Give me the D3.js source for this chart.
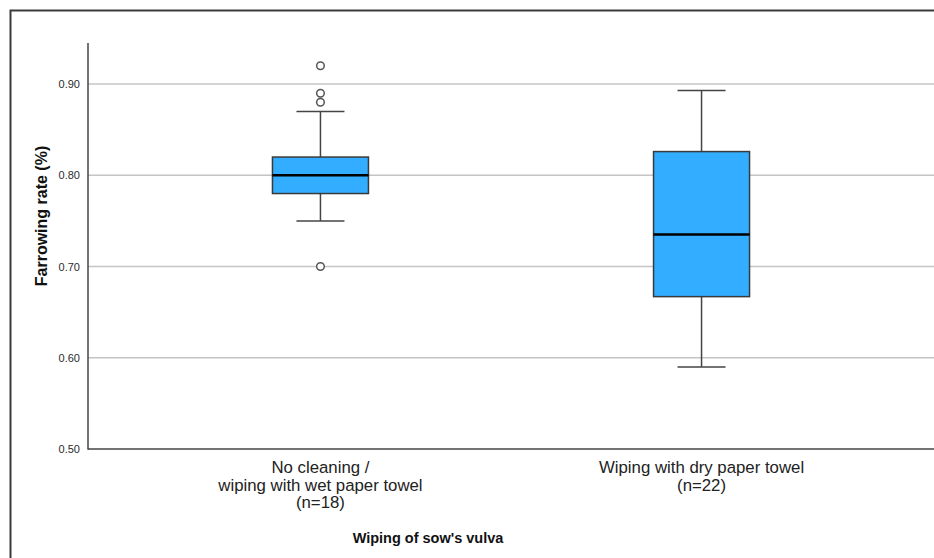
<!DOCTYPE html>
<html>
<head>
<meta charset="utf-8">
<script src="https://cdn.jsdelivr.net/npm/d3@7/dist/d3.min.js"></script>
<style>
  html, body { margin: 0; padding: 0; background: #fff; }
  svg { display: block; font-family: "Liberation Sans", Arial, sans-serif; }
</style>
</head>
<body>
<svg id="chart" width="934" height="558"></svg>
<script>
// Groups on the x axis (each label split into its printed lines)
const groups = ["clean", "dry"];
const groupLabels = [
  ["No cleaning /", "wiping with wet paper towel", "(n=18)"],
  ["Wiping with dry paper towel", "(n=22)"]
];

// Box-plot statistics per group
const lowerWhisker = [0.75, 0.59];
const q1 = [0.78, 0.667];
const median = [0.80, 0.735];
const q3 = [0.82, 0.826];
const upperWhisker = [0.87, 0.893];
const outliers = [[0.92, 0.89, 0.88, 0.70], []];

const yTicks = [0.50, 0.60, 0.70, 0.80, 0.90];

(function draw() {
  const svg = d3.select("#chart");
  const plotLeft = 88, plotRight = 934, plotTop = 43, plotBottom = 449;

  // Outer frame
  svg.append("rect")
    .attr("x", 10.5).attr("y", 10.5)
    .attr("width", 1000).attr("height", 1000)
    .attr("fill", "none").attr("stroke", "#3a3a3a").attr("stroke-width", 2);

  const y = d3.scaleLinear().domain([0.5, 0.945]).range([plotBottom, plotTop]);
  const x = d3.scalePoint().domain(groups).range([plotLeft, plotRight]).padding(0.61);

  // Grid lines
  svg.append("g").selectAll("line")
    .data(yTicks.filter(t => t > 0.5))
    .join("line")
    .attr("x1", plotLeft).attr("x2", plotRight)
    .attr("y1", d => y(d)).attr("y2", d => y(d))
    .attr("stroke", "#c4c4c4").attr("stroke-width", 1.5);

  // Y axis
  const yAxis = svg.append("g")
    .attr("transform", `translate(${plotLeft},0)`)
    .call(d3.axisLeft(y).tickValues(yTicks).tickFormat(d3.format(".2f")).tickSize(0).tickPadding(8));
  yAxis.select(".domain").remove();
  yAxis.selectAll("text")
    .attr("font-size", 11).attr("fill", "#2a2a2a")
    .attr("font-family", "Liberation Sans, Arial, sans-serif");

  // Axis lines
  svg.append("line").attr("x1", plotLeft).attr("x2", plotLeft).attr("y1", plotTop).attr("y2", plotBottom + 0.75)
    .attr("stroke", "#444").attr("stroke-width", 1.5);
  svg.append("line").attr("x1", plotLeft).attr("x2", plotRight).attr("y1", plotBottom).attr("y2", plotBottom)
    .attr("stroke", "#444").attr("stroke-width", 1.5);

  // Boxes
  const boxW = 96, capW = 48;
  const stroke = "#444";
  const g = svg.append("g");
  groups.forEach((k, i) => {
    const cx = x(k);
    // whiskers
    g.append("line").attr("x1", cx).attr("x2", cx)
      .attr("y1", y(upperWhisker[i])).attr("y2", y(q3[i]))
      .attr("stroke", stroke).attr("stroke-width", 1.5);
    g.append("line").attr("x1", cx).attr("x2", cx)
      .attr("y1", y(q1[i])).attr("y2", y(lowerWhisker[i]))
      .attr("stroke", stroke).attr("stroke-width", 1.5);
    [upperWhisker[i], lowerWhisker[i]].forEach(v => {
      g.append("line").attr("x1", cx - capW / 2).attr("x2", cx + capW / 2)
        .attr("y1", y(v)).attr("y2", y(v))
        .attr("stroke", stroke).attr("stroke-width", 1.5);
    });
    // box
    g.append("rect")
      .attr("x", cx - boxW / 2).attr("width", boxW)
      .attr("y", y(q3[i])).attr("height", y(q1[i]) - y(q3[i]))
      .attr("fill", "#33adff").attr("stroke", "#3a3a3a").attr("stroke-width", 1.5);
    // median
    g.append("line").attr("x1", cx - boxW / 2).attr("x2", cx + boxW / 2)
      .attr("y1", y(median[i])).attr("y2", y(median[i]))
      .attr("stroke", "#000").attr("stroke-width", 2.5);
    // outliers
    g.selectAll(null).data(outliers[i]).join("circle")
      .attr("cx", cx).attr("cy", d => y(d)).attr("r", 3.8)
      .attr("fill", "#fff").attr("stroke", "#555").attr("stroke-width", 1.5);
    // category labels
    const t = svg.append("text").attr("text-anchor", "middle")
      .attr("font-size", 16.8).attr("fill", "#222");
    groupLabels[i].forEach((line, j) => {
      t.append("tspan").attr("x", cx).attr("y", 473 + j * 17.5).text(line);
    });
  });

  // Axis titles
  svg.append("text")
    .attr("x", 428).attr("y", 543)
    .attr("text-anchor", "middle").attr("font-size", 14.5).attr("font-weight", "bold").attr("fill", "#111")
    .text("Wiping of sow's vulva");

  svg.append("text")
    .attr("transform", "translate(47,216) rotate(-90)")
    .attr("text-anchor", "middle").attr("font-size", 16).attr("font-weight", "bold").attr("fill", "#111")
    .text("Farrowing rate (%)");
})();
</script>
</body>
</html>
